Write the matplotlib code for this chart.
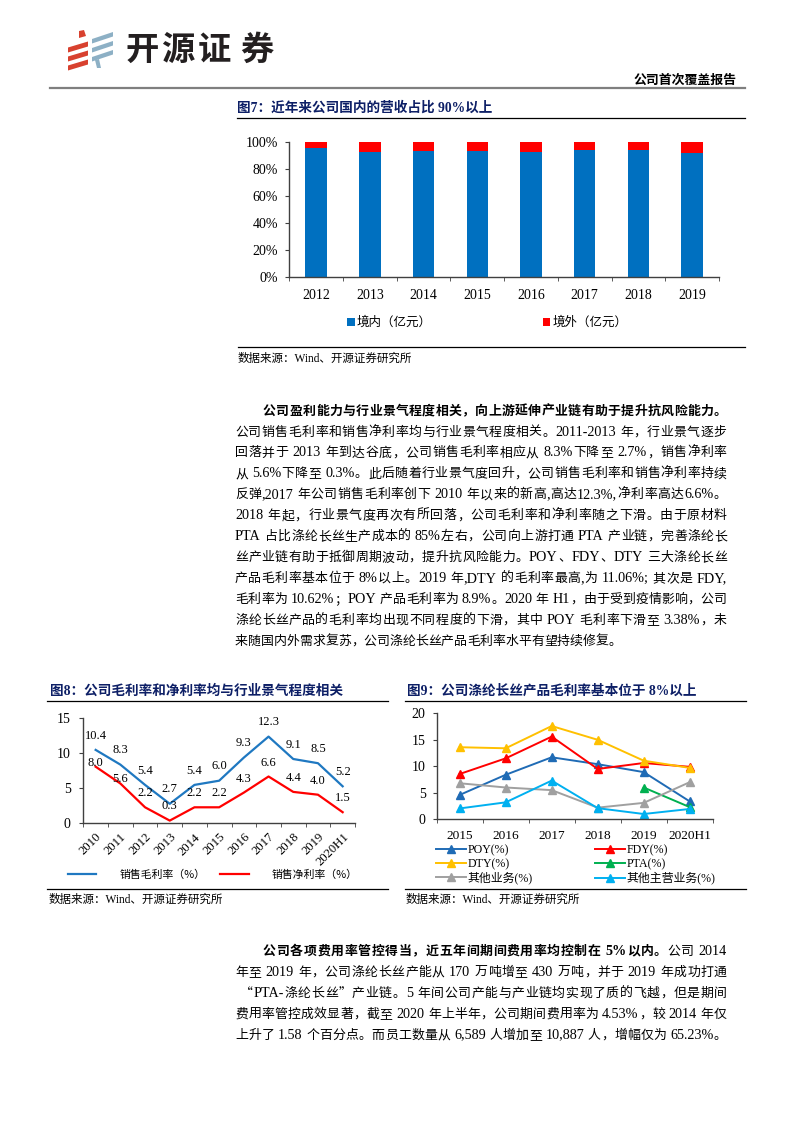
import matplotlib
matplotlib.use('Agg')
import matplotlib.pyplot as plt
import numpy as np
from matplotlib.patches import Polygon
from matplotlib.lines import Line2D

W, H = 793, 1122
plt.rcParams['font.family'] = ['Liberation Serif', 'Noto Sans CJK SC', 'DejaVu Sans']
plt.rcParams['axes.unicode_minus'] = False

# ---------------- data ----------------
years7 = ['2012', '2013', '2014', '2015', '2016', '2017', '2018', '2019']
domestic7 = [95.1, 92.1, 93.1, 92.9, 92.6, 94.1, 93.6, 91.4]
overseas7 = [4.9, 7.9, 6.9, 7.1, 7.4, 5.9, 6.4, 8.6]

years8 = ['2010', '2011', '2012', '2013', '2014', '2015', '2016', '2017', '2018', '2019', '2020H1']
gross8 = [10.4, 8.3, 5.4, 2.7, 5.4, 6.0, 9.3, 12.3, 9.1, 8.5, 5.2]
net8 = [8.0, 5.6, 2.2, 0.3, 2.2, 2.2, 4.3, 6.6, 4.4, 4.0, 1.5]

years9 = ['2015', '2016', '2017', '2018', '2019', '2020H1']
poy9 = [4.6, 8.4, 11.7, 10.4, 8.9, 3.38]
fdy9 = [8.55, 11.5, 15.6, 9.5, 10.62, 9.9]
dty9 = [13.6, 13.4, 17.6, 15.0, 11.06, 9.7]
pta9 = [np.nan, np.nan, np.nan, np.nan, 6.0, 2.3]
other9 = [6.8, 6.0, 5.5, 2.2, 3.1, 7.0]
othermain9 = [2.05, 3.2, 7.3, 2.1, 1.0, 1.95]

para1 = [
    [("公司盈利能力与行业景气程度相关，向上游延伸产业链有助于提升抗风险能力。", True)],
    [("公司销售毛利率和销售净利率均与行业景气程度相关。2011-2013 年，行业景气逐步", False)],
    [("回落并于 2013 年到达谷底，公司销售毛利率相应从 8.3%下降至 2.7%，销售净利率", False)],
    [("从 5.6%下降至 0.3%。此后随着行业景气度回升，公司销售毛利率和销售净利率持续", False)],
    [("反弹,2017 年公司销售毛利率创下 2010 年以来的新高,高达12.3%,净利率高达6.6%。", False)],
    [("2018 年起，行业景气度再次有所回落，公司毛利率和净利率随之下滑。由于原材料", False)],
    [("PTA 占比涤纶长丝生产成本的 85%左右，公司向上游打通 PTA 产业链，完善涤纶长", False)],
    [("丝产业链有助于抵御周期波动，提升抗风险能力。POY、FDY、DTY 三大涤纶长丝", False)],
    [("产品毛利率基本位于 8%以上。2019 年,DTY 的毛利率最高,为 11.06%; 其次是 FDY,", False)],
    [("毛利率为 10.62%；POY 产品毛利率为 8.9%。2020 年 H1，由于受到疫情影响，公司", False)],
    [("涤纶长丝产品的毛利率均出现不同程度的下滑，其中 POY 毛利率下滑至 3.38%，未", False)],
    [("来随国内外需求复苏，公司涤纶长丝产品毛利率水平有望持续修复。", False)],
]
para2 = [
    [("公司各项费用率管控得当，近五年间期间费用率均控制在 5%以内。", True), ("公司 2014", False)],
    [("年至 2019 年，公司涤纶长丝产能从 170 万吨增至 430 万吨，并于 2019 年成功打通", False)],
    [("“PTA-涤纶长丝”产业链。5 年间公司产能与产业链均实现了质的飞越，但是期间", False)],
    [("费用率管控成效显著，截至 2020 年上半年，公司期间费用率为 4.53%，较 2014 年仅", False)],
    [("上升了 1.58 个百分点。而员工数量从 6,589 人增加至 10,887 人，增幅仅为 65.23%。", False)],
]

# ---------------- helpers ----------------
fig = plt.figure(figsize=(W / 100, H / 100), dpi=100)
renderer = fig.canvas.get_renderer()


def fx(px):
    return px / W


def fy(py):
    return 1 - py / H


def hline(x0, x1, y, color='black', lw=1.0):
    fig.add_artist(Line2D([fx(x0), fx(x1)], [fy(y), fy(y)], transform=fig.transFigure,
                          color=color, lw=lw))


def is_wide(ch):
    return ord(ch[0]) > 0x2000


def tokenize(segments):
    toks = []
    for text, bold in segments:
        buf = ''
        for ch in text:
            if is_wide(ch) or ch == ' ':
                if buf:
                    toks.append((buf, bold))
                    buf = ''
                toks.append((ch, bold))
            else:
                buf += ch
        if buf:
            toks.append((buf, bold))
    return toks


def draw_line(segments, x0, x1, yc, size=9.3, lsize=10.2, justify=True, color='black'):
    toks = tokenize(segments)
    items = []
    base = yc + 0.36 * size * 100 / 72
    for s, bold in toks:
        if s == ' ':
            items.append((None, size * 100 / 72 * 0.25))
            continue
        wide = is_wide(s)
        fam = ['Noto Sans CJK SC'] if wide else ['Liberation Serif', 'Noto Sans CJK SC']
        t = fig.text(0, fy(base), s, fontsize=size if wide else lsize,
                     fontweight='bold' if bold else 'normal',
                     family=fam, va='baseline', ha='left', color=color)
        w = t.get_window_extent(renderer).width
        items.append((t, w))
    total = sum(w for _, w in items)
    n = len(items) - 1
    extra = (x1 - x0 - total) / n if (justify and n > 0) else 0.0
    x = x0
    for t, w in items:
        if t is not None:
            t.set_x(fx(x))
        x += w + extra


# ---------------- header ----------------
red_c = '#d8412f'
blue_c = '#8db0c5'
for yl in [50, 59, 68]:
    fig.add_artist(Polygon([[fx(68), fy(yl + 2.5)], [fx(88), fy(yl - 3.5)],
                            [fx(88), fy(yl - 8.5)], [fx(68), fy(yl - 2.5)]],
                           closed=True, transform=fig.transFigure, color=red_c, lw=0))
fig.add_artist(Polygon([[fx(79), fy(38)], [fx(86), fy(36)], [fx(84), fy(30)], [fx(79), fy(31)]],
                       closed=True, transform=fig.transFigure, color=red_c, lw=0))
for yl in [41, 50, 59]:
    fig.add_artist(Polygon([[fx(92), fy(yl + 2.5)], [fx(113), fy(yl - 4.5)],
                            [fx(113), fy(yl - 9)], [fx(92), fy(yl - 2)]],
                           closed=True, transform=fig.transFigure, color=blue_c, lw=0))
fig.add_artist(Polygon([[fx(95), fy(60)], [fx(99), fy(59)], [fx(101), fy(68)], [fx(97), fy(68)]],
                       closed=True, transform=fig.transFigure, color=blue_c, lw=0))
for ch, cx in zip("开源证券", [142, 177.5, 214, 257]):
    fig.text(fx(cx), fy(50), ch, fontsize=24, fontweight='bold', family=['Noto Sans CJK SC'],
             ha='center', va='center', color='#231f20')
fig.text(fx(737), fy(80), "公司首次覆盖报告", fontsize=9.3, fontweight='bold',
         family=['Noto Sans CJK SC'], ha='right', va='center', color='black')
hline(50, 745, 88.3, color='#7f7f7f', lw=1.6)

navy = '#0d1f66'
title_font = ['Liberation Serif', 'Noto Sans CJK SC']

# ---------------- Figure 7 ----------------
fig.text(fx(237), fy(108), "图7：近年来公司国内的营收占比 90%以上", fontsize=9.8, fontweight='bold',
         family=title_font, ha='left', va='center', color=navy)
hline(237, 745, 118.3, lw=0.9)

ax7 = fig.add_axes([fx(289.3), fy(276.7), (719 - 289.3) / W, (276.7 - 141.7) / H])
x7 = np.arange(len(years7))
ax7.bar(x7, domestic7, width=0.4, color='#0070c0', label='境内（亿元）')
ax7.bar(x7, overseas7, bottom=domestic7, width=0.4, color='#ff0000', label='境外（亿元）')
ax7.set_xlim(-0.5, len(years7) - 0.5)
ax7.set_ylim(0, 100)
ax7.set_yticks(np.arange(0, 101, 20))
ax7.set_yticklabels([f"{v}%" for v in range(0, 101, 20)])
ax7.set_xticks(x7)
ax7.set_xticklabels(years7)
ax7.set_xticks(np.arange(-0.5, len(years7), 1.0), minor=True)
for s in ['top', 'right']:
    ax7.spines[s].set_visible(False)
for s in ['left', 'bottom']:
    ax7.spines[s].set_color('#404040')
    ax7.spines[s].set_linewidth(1.0)
ax7.tick_params(axis='x', which='major', length=0, pad=9, labelsize=10)
ax7.tick_params(axis='x', which='minor', length=3, direction='out', color='#404040')
ax7.tick_params(axis='y', length=3, direction='out', pad=5, labelsize=10, color='#404040')
ax7.set_facecolor('none')
ax7.legend(loc='center left', bbox_to_anchor=(fx(347), fy(322.7)), bbox_transform=fig.transFigure,
           ncol=2, frameon=False, borderpad=0, borderaxespad=0, handlelength=0.6, handleheight=0.6,
           handletextpad=0.2, columnspacing=8.85,
           prop={'family': ['Noto Sans CJK SC'], 'size': 9})
hline(238, 745, 346.7, lw=0.9)
fig.text(fx(238), fy(359), "数据来源：Wind、开源证券研究所", fontsize=8.3, family=title_font,
         ha='left', va='center')

# ---------------- body text paragraph 1 ----------------
for i, segs in enumerate(para1):
    x0 = 263 if i == 0 else 235
    draw_line(segs, x0, 726.7, 410 + i * 20.9, justify=(i != len(para1) - 1))

# ---------------- Figure 8 ----------------
fig.text(fx(50), fy(691.5), "图8：公司毛利率和净利率均与行业景气程度相关", fontsize=9.8, fontweight='bold',
         family=title_font, ha='left', va='center', color=navy)
hline(47, 388, 700.7, lw=0.9)

ax8 = fig.add_axes([fx(83.3), fy(822.7), (355 - 83.3) / W, 105 / H])
x8 = np.arange(len(years8))
c_gross = '#1f78c1'
c_net = '#ff0000'
ax8.plot(x8, gross8, color=c_gross, lw=1.6, label='销售毛利率（%）')
ax8.plot(x8, net8, color=c_net, lw=1.6, label='销售净利率（%）')
net_offsets = [4, 5, 14, 15, 14, 14, 14, 14, 14, 14, 14]
for i, v in enumerate(gross8):
    ax8.annotate(f"{v:.1f}", (x8[i], v), xytext=(0, 14.3 * 0.72), textcoords='offset points',
                 ha='center', va='center', fontsize=9, family=['Liberation Serif'])
for i, v in enumerate(net8):
    ax8.annotate(f"{v:.1f}", (x8[i], v), xytext=(0, net_offsets[i] * 0.72), textcoords='offset points',
                 ha='center', va='center', fontsize=9, family=['Liberation Serif'])
ax8.set_xlim(-0.5, len(years8) - 0.5)
ax8.set_ylim(0, 15)
ax8.set_yticks([0, 5, 10, 15])
ax8.set_xticks(x8)
ax8.set_xticklabels(years8, rotation=45, ha='right', va='top', rotation_mode='anchor')
ax8.set_xticks(np.arange(-0.5, len(years8), 1.0), minor=True)
for s in ['top', 'right']:
    ax8.spines[s].set_visible(False)
for s in ['left', 'bottom']:
    ax8.spines[s].set_color('#404040')
    ax8.spines[s].set_linewidth(1.0)
ax8.tick_params(axis='x', which='major', length=0, pad=6, labelsize=9.2)
ax8.tick_params(axis='x', which='minor', length=3, direction='out', color='#404040')
ax8.tick_params(axis='y', length=3, direction='out', pad=6, labelsize=10, color='#404040')
ax8.set_facecolor('none')
ax8.legend(loc='center left', bbox_to_anchor=(fx(68.3), fy(874.3)), bbox_transform=fig.transFigure,
           ncol=2, frameon=False, borderpad=0, borderaxespad=0, handlelength=2.6,
           handletextpad=2.1, columnspacing=1.4,
           prop={'family': ['Noto Sans CJK SC', 'Liberation Serif'], 'size': 7.8})
hline(47, 388, 888.5, lw=0.9)
fig.text(fx(48.3), fy(899.5), "数据来源：Wind、开源证券研究所", fontsize=8.3, family=title_font,
         ha='left', va='center')

# ---------------- Figure 9 ----------------
fig.text(fx(406.7), fy(691.5), "图9：公司涤纶长丝产品毛利率基本位于 8%以上", fontsize=9.8, fontweight='bold',
         family=title_font, ha='left', va='center', color=navy)
hline(405, 746, 700.7, lw=0.9)

ax9 = fig.add_axes([fx(436.7), fy(819.3), (712.7 - 436.7) / W, 106 / H])
x9 = np.arange(len(years9))
series9 = [
    (poy9, '#1f6bb5', 'POY(%)'),
    (fdy9, '#ff0000', 'FDY(%)'),
    (dty9, '#ffc000', 'DTY(%)'),
    (pta9, '#00b050', 'PTA(%)'),
    (other9, '#a0a0a0', '其他业务(%)'),
    (othermain9, '#00b0f0', '其他主营业务(%)'),
]
handles = {}
for vals, col, lab in series9:
    ln, = ax9.plot(x9, vals, color=col, lw=1.4, marker='^', markersize=5.5, label=lab)
    handles[lab] = ln
ax9.set_xlim(-0.5, len(years9) - 0.5)
ax9.set_ylim(0, 20)
ax9.set_yticks([0, 5, 10, 15, 20])
ax9.set_xticks(x9)
ax9.set_xticklabels(years9)
ax9.set_xticks(np.arange(-0.5, len(years9), 1.0), minor=True)
for s in ['top', 'right']:
    ax9.spines[s].set_visible(False)
for s in ['left', 'bottom']:
    ax9.spines[s].set_color('#404040')
    ax9.spines[s].set_linewidth(1.0)
ax9.tick_params(axis='x', which='major', length=0, pad=8, labelsize=9.6)
ax9.tick_params(axis='x', which='minor', length=3, direction='out', color='#404040')
ax9.tick_params(axis='y', length=3, direction='out', pad=5, labelsize=10, color='#404040')
ax9.set_facecolor('none')
order = ['POY(%)', 'DTY(%)', '其他业务(%)', 'FDY(%)', 'PTA(%)', '其他主营业务(%)']
ax9.legend([handles[k] for k in order], order, loc='center left',
           bbox_to_anchor=(fx(436), fy(864.5)), bbox_transform=fig.transFigure,
           ncol=2, frameon=False, borderpad=0, borderaxespad=0, handlelength=2.5,
           handletextpad=0.15, columnspacing=5.2, labelspacing=0.15,
           prop={'family': ['Liberation Serif', 'Noto Sans CJK SC'], 'size': 8.6})
hline(405, 746, 889, lw=0.9)
fig.text(fx(406), fy(899.5), "数据来源：Wind、开源证券研究所", fontsize=8.3, family=title_font,
         ha='left', va='center')

# ---------------- body text paragraph 2 ----------------
for i, segs in enumerate(para2):
    x0 = 263 if i == 0 else (240 if i == 2 else 235)
    draw_line(segs, x0, 726.7, 950 + i * 21)

fig.savefig('out.png', dpi=100)
